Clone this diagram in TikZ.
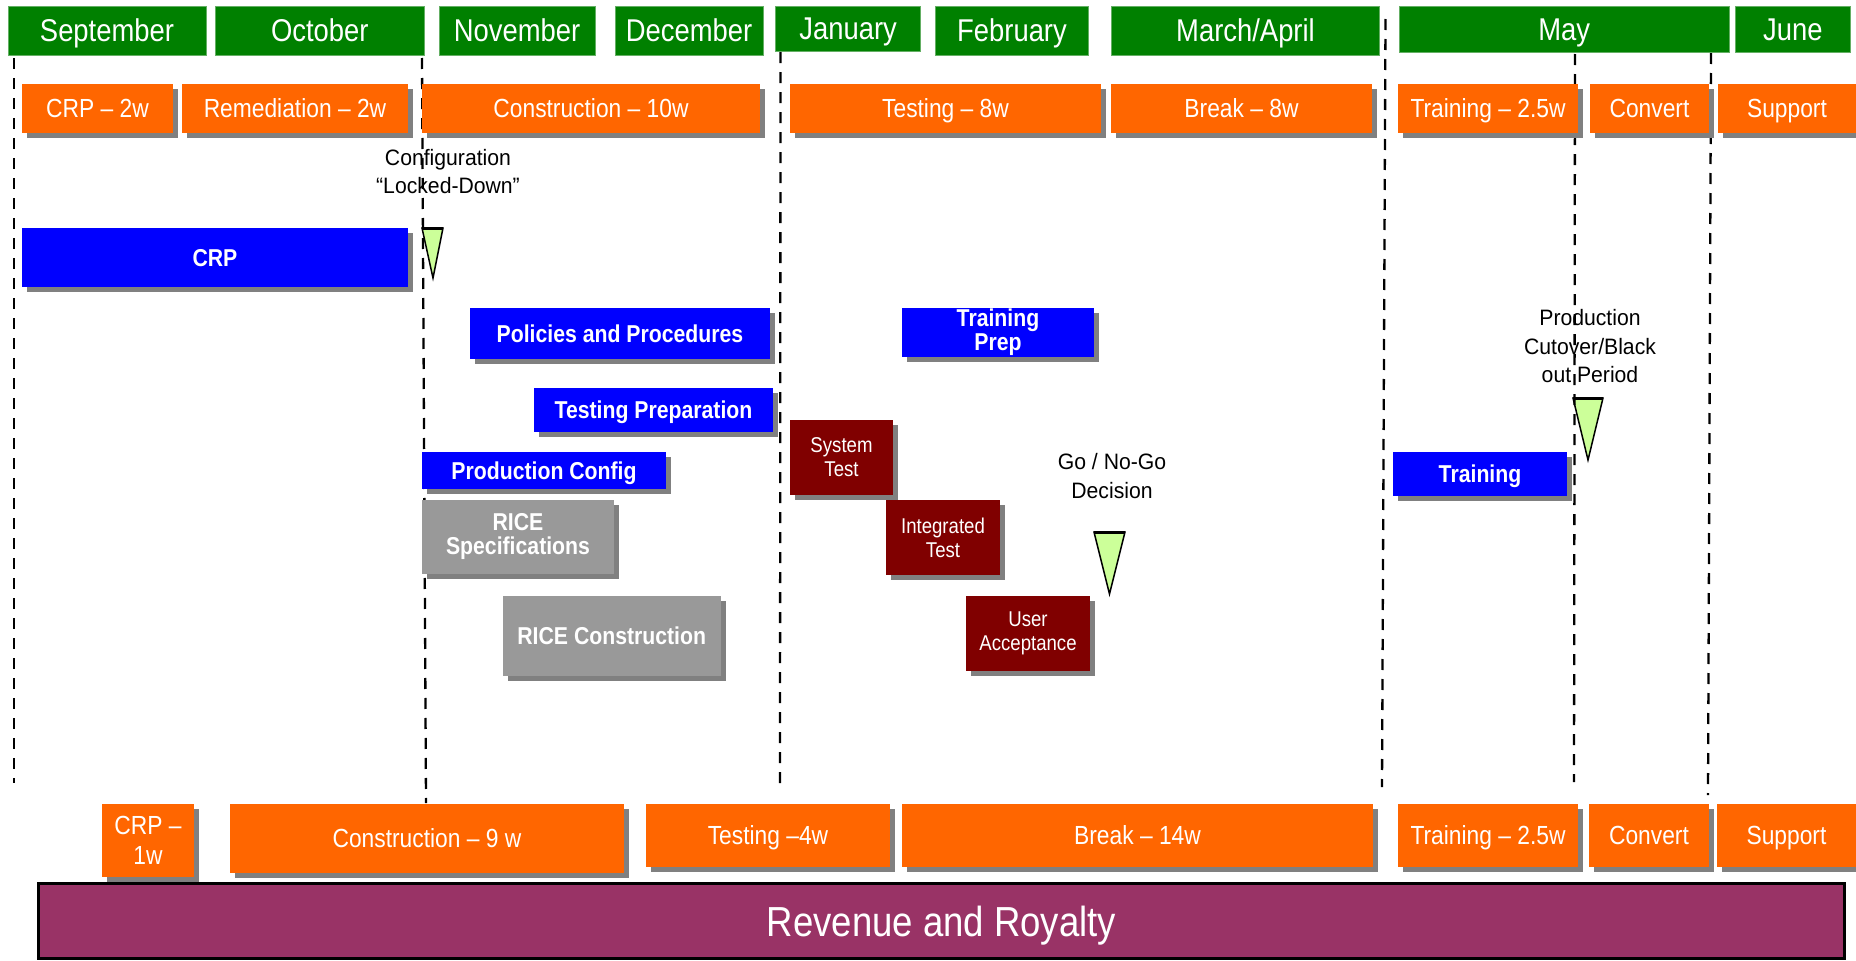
\documentclass[tikz,border=0pt]{standalone}
\usepackage{fontspec}
\setmainfont{Liberation Sans}[FakeStretch=0.87]
\newfontfamily\annfont{Liberation Sans}[FakeStretch=0.95]
\usetikzlibrary{shadows}
\definecolor{mgreen}{RGB}{0,128,0}
\definecolor{medge}{RGB}{100,175,100}
\definecolor{morange}{RGB}{255,102,0}
\definecolor{mblue}{RGB}{0,0,255}
\definecolor{mgray}{RGB}{153,153,153}
\definecolor{mmaroon}{RGB}{128,0,0}
\definecolor{mshadow}{RGB}{128,128,128}
\definecolor{mrev}{RGB}{153,51,102}
\definecolor{mtri}{RGB}{204,255,153}
\tikzset{
  base/.style={inner sep=0pt, outer sep=0pt, text=white, align=center},
  corners/.style args={#1/#2/#3/#4}{at={({(#1+#3)/2},{(#2+#4)/2})},
      minimum width={#3pt-#1pt}, minimum height={#4pt-#2pt}},
  month/.style={base, fill=mgreen, draw=medge, line width=1pt,
      font=\fontsize{31.5}{36}\selectfont, text height=22.6pt, text depth=0pt},
  shad/.style={drop shadow={shadow xshift=5pt, shadow yshift=-5pt, fill=mshadow, opacity=1}},
  phase/.style={base, shad, fill=morange, font=\fontsize{26.2}{30}\selectfont},
  phaseone/.style={phase, text height=18.8pt, text depth=0pt},
  task/.style={base, shad, fill=mblue, font=\fontsize{24.4}{24}\selectfont\bfseries},
  taskone/.style={task, text height=17.5pt, text depth=0pt},
  rice/.style={task, fill=mgray},
  testbox/.style={base, shad, fill=mmaroon, font=\fontsize{21.4}{24}\selectfont},
  note/.style={inner sep=0pt, align=center, text=black, font=\annfont\fontsize{22.3}{28.5}\selectfont},
  milestone/.style={fill=mtri, draw=black, line width=1.5pt, line join=miter},
  divider/.style={draw=black, line width=2.3pt, dash pattern=on 11pt off 9pt},
}
\begin{document}
\begin{tikzpicture}[x=1pt,y=-1pt]
\useasboundingbox (0,0) rectangle (1856,961);
\fill[white] (0,0) rectangle (1856,961);

% milestones
\filldraw[milestone] (422,228) -- (443,228) -- (433,278) -- cycle;
\draw[line width=3pt] (422,228) -- (443,228);
\filldraw[milestone] (1094,532) -- (1125,532) -- (1109.5,594) -- cycle;
\draw[line width=3pt] (1094,532) -- (1125,532);
\filldraw[milestone] (1573,398) -- (1603,398) -- (1588,460) -- cycle;
\draw[line width=3pt] (1573,398) -- (1603,398);

% dividers
\draw[divider] (14,58) -- (14,783);
\draw[divider] (422,58) -- (426,803);
\draw[divider] (780.5,52) -- (780,787);
\draw[divider] (1385.5,19) -- (1382,787);
\draw[divider] (1575,54) -- (1574,782);
\draw[divider] (1711,53) -- (1708,795);

% months
\node[month, corners=8/6/206/55] (sep) {September};
\node[month, corners=215/6/424.5/55] (oct) {October};
\node[month, corners=439/6/595/55] (nov) {November};
\node[month, corners=615/6/763/55] (dec) {December};
\node[month, corners=775.7/6/920.7/51] (jan) {January};
\node[month, corners=935.7/6/1088.3/55] (feb) {February};
\node[month, corners=1111.7/6/1379.3/55] (mar) {March/April};
\node[month, corners=1399.3/6/1729/52] (may) {May};
\node[month, corners=1735.7/6/1850/52] (jun) {June};

% phases row 1
\node[phaseone, corners=22/84/173/133] (crpa) {CRP – 2w};
\node[phaseone, corners=182/84/408/133] (rem) {Remediation – 2w};
\node[phaseone, corners=422/84/760/133] (cona) {Construction – 10w};
\node[phaseone, corners=790/84/1101/133] (tsta) {Testing – 8w};
\node[phaseone, corners=1111/84/1372/133] (brka) {Break – 8w};
\node[phaseone, corners=1398/84/1578/133] (trna) {Training – 2.5w};
\node[phaseone, corners=1590/84/1709/133] (cnva) {Convert};
\node[phaseone, corners=1718/84/1856/133] (supa) {Support};

% tasks
\node[taskone, corners=22/228/408/287] (crp) {CRP};
\node[taskone, corners=470/308/770/359] (pol) {Policies and Procedures};
\node[taskone, corners=534/388/773/432] (tprep) {Testing Preparation};
\node[taskone, corners=422/452/666/489] (pconf) {Production Config};
\node[task, corners=902/308/1094/357] (trprep) {Training\\Prep};
\node[taskone, corners=1393/452/1567/496] (train) {Training};
\node[rice, corners=422/500/614/574] (ricespec) {RICE\\Specifications};
\node[rice, text height=17.5pt, text depth=0pt, corners=502.5/596/721/676] (ricecon) {RICE Construction};
\node[testbox, corners=790/420/893/495] (systest) {System\\Test};
\node[testbox, corners=886/500/1000/575] (inttest) {Integrated\\Test};
\node[testbox, corners=966/596/1090/671] (uat) {User\\Acceptance};

% notes
\node[note] (lock) at (448,171.5) {Configuration\\“Locked-Down”};
\node[note] (gonogo) at (1112,476) {Go / No-Go\\Decision};
\node[note] (cutover) at (1590,346.5) {Production\\Cutover/Black\\out Period};

% phases row 2
\node[phase, corners=102/804/194/877] (crpb) {CRP –\\1w};
\node[phaseone, corners=230/804/624/873] (conb) {Construction – 9 w};
\node[phaseone, corners=646/804/890/867] (tstb) {Testing –4w};
\node[phaseone, corners=902/804/1373/867] (brkb) {Break – 14w};
\node[phaseone, corners=1398/804/1578/867] (trnb) {Training – 2.5w};
\node[phaseone, corners=1589/804/1709/867] (cnvb) {Convert};
\node[phaseone, corners=1717/804/1856/867] (supb) {Support};

% revenue
\node[base, fill=mrev, draw=black, line width=3pt, font=\fontsize{42}{48}\selectfont,
      text height=30pt, text depth=0pt, corners=38.5/883.5/1844.5/958.5] (rev) {Revenue and Royalty};
\end{tikzpicture}
\end{document}
